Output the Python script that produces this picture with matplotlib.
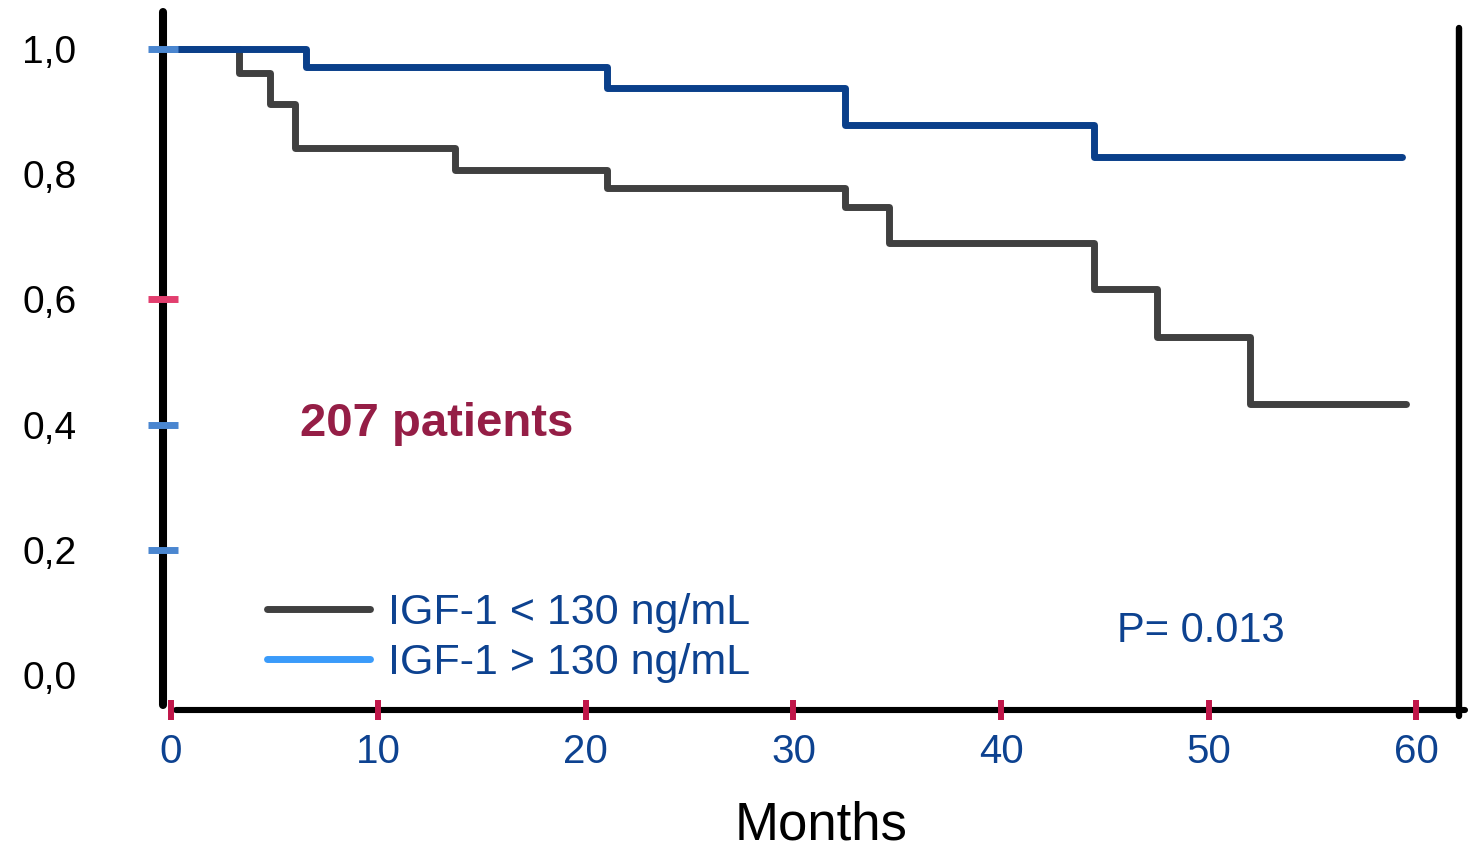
import matplotlib
matplotlib.use("Agg")
import matplotlib.pyplot as plt
from matplotlib.lines import Line2D

plt.rcParams['font.family'] = ['Liberation Sans', 'DejaVu Sans']

# Kaplan-Meier estimates (months, survival probability)
months_low = [0, 3.3, 4.8, 6.0, 13.7, 21.0, 32.5, 34.6, 44.5, 47.5, 52.0, 59.5]
surv_low = [1.0, 0.962, 0.912, 0.842, 0.807, 0.778, 0.748, 0.690, 0.617, 0.540, 0.433, 0.433]

months_high = [0, 6.5, 21.0, 32.5, 44.5, 59.3]
surv_high = [1.0, 0.971, 0.938, 0.879, 0.827, 0.827]

label_low = "IGF-1 < 130 ng/mL"
label_high = "IGF-1 > 130 ng/mL"
n_patients_text = "207 patients"
p_value_text = "P= 0.013"

x_ticks = [0, 10, 20, 30, 40, 50, 60]
y_ticks = [0.0, 0.2, 0.4, 0.6, 0.8, 1.0]
y_tick_labels = ["0,0", "0,2", "0,4", "0,6", "0,8", "1,0"]

# colours
c_low = "#404040"
c_high = "#0A3F8A"
c_high_legend = "#3A9BFA"
c_text_blue = "#0D4290"
c_xtick = "#C0174A"
c_patients = "#951E46"
ytick_colors = {0.2: "#4A86D0", 0.4: "#4A86D0", 0.6: "#E23E6E", 1.0: "#4A86D0"}

W, H = 1468, 850
fig = plt.figure(figsize=(W / 100, H / 100), dpi=100)
ax = fig.add_axes([0, 0, 1, 1])
ax.patch.set_alpha(0)

ax.set_xlim(-8.23, 62.5)
ax.set_ylim(-0.2796, 1.0783)

ax.plot(months_low, surv_low, drawstyle="steps-post", color=c_low, lw=5.0,
        solid_joinstyle="round", solid_capstyle="round", zorder=2)
ax.plot(months_high, surv_high, drawstyle="steps-post", color=c_high, lw=5.0,
        solid_joinstyle="round", solid_capstyle="round", zorder=2.1)

# axis frame
ax.spines["top"].set_visible(False)
ax.spines["left"].set_position(("data", -0.4))
ax.spines["left"].set_bounds(-0.048, 1.059)
ax.spines["left"].set_linewidth(5.8)
ax.spines["bottom"].set_position(("data", -0.056))
ax.spines["bottom"].set_bounds(0.25, 62.36)
ax.spines["bottom"].set_linewidth(4.4)
ax.spines["right"].set_position(("data", 62.07))
ax.spines["right"].set_bounds(-0.066, 1.033)
ax.spines["right"].set_linewidth(4.6)
for s in ("left", "bottom", "right"):
    ax.spines[s].set_capstyle("round")
    ax.spines[s].set_color("black")
ax.set_axisbelow(False)

ax.set_xticks(x_ticks)
ax.set_xticklabels([str(t) for t in x_ticks])
ax.tick_params(axis="x", direction="inout", length=15, width=4.3, color=c_xtick,
               labelsize=29, labelcolor=c_text_blue, pad=9)

ax.set_yticks(y_ticks)
ax.set_yticklabels(y_tick_labels)
ax.tick_params(axis="y", direction="inout", length=22, width=5, labelsize=28,
               labelcolor="black", pad=51)
ax.tick_params(axis="y", right=False, labelright=False)
for val, tick in zip(y_ticks, ax.yaxis.get_major_ticks()):
    if val in ytick_colors:
        tick.tick1line.set_markeredgecolor(ytick_colors[val])
    else:
        tick.tick1line.set_visible(False)

ax.set_xlabel("Months", fontsize=38, color="black")
ax.xaxis.set_label_coords(821 / W, 1 - 840 / H)
ax.xaxis.label.set_va("baseline")

ax.text(6.23, 0.382, n_patients_text, fontsize=34, fontweight="bold",
        color=c_patients, ha="left", va="baseline")
ax.text(45.59, 0.053, p_value_text, fontsize=30, color=c_text_blue,
        ha="left", va="baseline")

handles = [
    Line2D([], [], color=c_low, lw=5.0, solid_capstyle="round"),
    Line2D([], [], color=c_high_legend, lw=5.0, solid_capstyle="round"),
]
ax.legend(handles, [label_low, label_high], loc="upper left",
          bbox_to_anchor=(267 / W, 1 - 593 / H), frameon=False, fontsize=31,
          labelcolor=c_text_blue, handlelength=2.4, handletextpad=0.4,
          labelspacing=0.24, borderpad=0, borderaxespad=0)

fig.savefig("out.png", dpi=100)
